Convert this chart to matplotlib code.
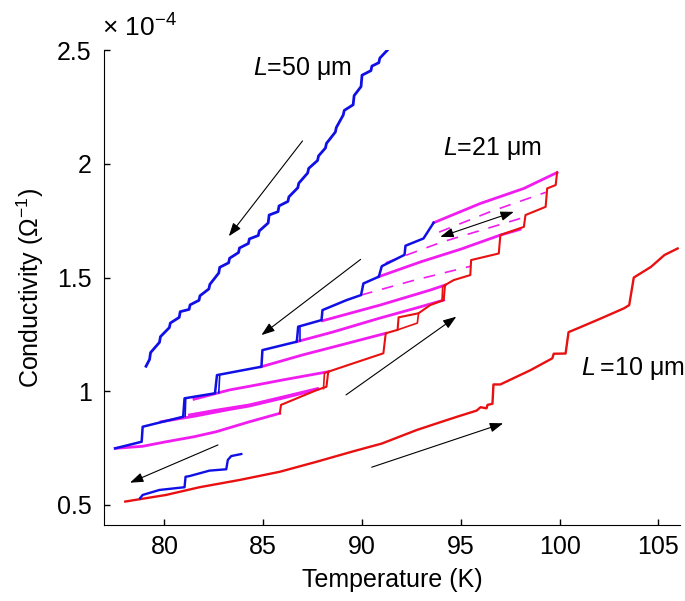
import matplotlib.pyplot as plt

plt.rcParams['font.family'] = ['Liberation Sans', 'DejaVu Sans']
plt.rcParams['mathtext.fontset'] = 'custom'
plt.rcParams['mathtext.rm'] = 'Liberation Sans'
plt.rcParams['mathtext.it'] = 'Liberation Sans:italic'

# temperatures in K, conductivities in units of 1e-4 Ohm^-1

# L = 50 um, cooling
l50_T = [91.28, 90.9, 90.85, 90.5, 90.45, 90.0, 89.95, 89.6, 89.55, 89.1, 89.05, 88.7,
         88.65, 88.2, 88.15, 87.8, 87.75, 87.3, 87.25, 86.8, 86.75, 86.3, 86.25, 85.8,
         85.75, 85.3, 85.25, 84.8, 84.75, 84.3, 84.25, 83.8, 83.75, 83.3, 83.25, 82.8,
         82.75, 82.3, 82.25, 81.8, 81.75, 81.3, 81.25, 80.8, 80.75, 80.3, 80.25, 79.8,
         79.75, 79.3, 79.25, 79.07]
l50_G = [2.50, 2.465, 2.445, 2.43, 2.41, 2.39, 2.34, 2.30, 2.26, 2.235, 2.215, 2.16,
         2.14, 2.09, 2.07, 2.035, 2.015, 1.98, 1.96, 1.915, 1.895, 1.855, 1.835, 1.815,
         1.79, 1.775, 1.74, 1.705, 1.685, 1.67, 1.65, 1.63, 1.61, 1.585, 1.565, 1.545,
         1.52, 1.47, 1.45, 1.42, 1.40, 1.38, 1.36, 1.35, 1.325, 1.30, 1.28, 1.24,
         1.215, 1.17, 1.14, 1.11]

# L = 10 um, heating and cooling
l10_heat_T = [78.02, 80.08, 81.78, 83.81, 85.84, 87.7, 89.56, 91.0, 92.78, 94.0, 94.81,
              95.8, 96.0, 96.3, 96.35, 96.6, 96.65, 97.0, 98.53, 99.63, 99.7, 100.3,
              100.45, 101.0, 102.08, 103.26, 103.52, 103.75, 104.62, 105.3, 105.97]
l10_heat_G = [0.515, 0.544, 0.578, 0.61, 0.646, 0.69, 0.736, 0.77, 0.83, 0.865, 0.888,
              0.915, 0.93, 0.925, 0.94, 0.945, 1.03, 1.03, 1.093, 1.145, 1.165, 1.166,
              1.26, 1.28, 1.32, 1.365, 1.379, 1.50, 1.547, 1.599, 1.628]
l10_cool_T = [83.89, 83.38, 83.21, 83.13, 82.28, 81.27, 81.07, 81.02, 79.75, 78.9, 78.77]
l10_cool_G = [0.724, 0.715, 0.698, 0.657, 0.651, 0.627, 0.624, 0.578, 0.566, 0.544, 0.53]

# L = 21 um, cooling (blue) and heating (red) with jumps
l21_cool_T = [93.62, 93.11, 92.2, 92.15, 91.0, 90.85, 90.07, 89.95, 89.22, 88.0, 87.95,
              86.77, 86.7, 84.96, 84.91, 82.66, 82.56, 81.02, 80.95, 78.9, 78.85, 77.51]
l21_cool_G = [1.741, 1.672, 1.640, 1.600, 1.550, 1.504, 1.474, 1.423, 1.401, 1.357, 1.313,
              1.284, 1.218, 1.181, 1.108, 1.071, 0.991, 0.969, 0.888, 0.844, 0.778, 0.749]
l21_cool_extra = [([86.85, 86.85], [1.284, 1.22]),
                  ([82.8, 82.75], [1.072, 0.993]),
                  ([81.08, 81.05], [0.969, 0.89])]
l21_heat_T = [85.84, 85.9, 87.7, 88.2, 88.29, 89.56, 91.08, 91.2, 91.8, 91.85, 92.86, 93.45,
              94.13, 94.2, 94.64, 95.48, 95.52, 96.92, 97.0, 98.19, 98.27, 99.29, 99.37,
              99.8, 99.87]
l21_heat_G = [0.903, 0.94, 1.005, 1.02, 1.086, 1.123, 1.167, 1.255, 1.27, 1.325, 1.343, 1.379,
              1.401, 1.467, 1.489, 1.511, 1.577, 1.606, 1.687, 1.723, 1.775, 1.811, 1.892,
              1.907, 1.962]
l21_heat_extra = [([91.8, 92.8, 92.86], [1.27, 1.30, 1.343]),
                  ([88.05, 88.1, 88.3], [1.012, 1.08, 1.086]),
                  ([94.05, 94.08, 94.2], [1.399, 1.46, 1.467])]

# L = 21 um, reversible segments (magenta)
l21_rev = [
    ([93.62, 95.99, 98.19, 99.87], [1.741, 1.826, 1.892, 1.962]),
    ([77.51, 78.9, 80.09, 81.5, 82.62, 84.31, 85.84], [0.749, 0.758, 0.778, 0.80, 0.822, 0.866, 0.903]),
    ([79.83, 81.5, 83.3, 84.3, 86.0, 87.75], [0.866, 0.89, 0.92, 0.935, 0.97, 1.008]),
    ([81.27, 82.5, 84.3, 86.0, 87.75], [0.896, 0.915, 0.94, 0.975, 1.012]),
    ([81.5, 83.3, 84.31, 86.0, 88.29], [0.965, 1.006, 1.022, 1.05, 1.086]),
    ([84.91, 87.0, 89.0, 91.2], [1.108, 1.16, 1.205, 1.255]),
    ([86.7, 88.5, 90.91, 92.9, 94.13], [1.218, 1.26, 1.322, 1.37, 1.401]),
    ([88.0, 90.91, 93.45, 94.2], [1.31, 1.379, 1.445, 1.467]),
    ([90.85, 93.0, 95.0, 97.0, 98.0], [1.504, 1.57, 1.625, 1.687, 1.712]),
]
l21_rev_dashed = [
    ([93.9, 96.5, 99.3], [1.70, 1.79, 1.875]),
    ([91.2, 94.0, 98.2], [1.565, 1.655, 1.765]),
    ([89.95, 92.5, 95.5], [1.423, 1.485, 1.55]),
]

# arrows (tail, head)
arrows = [((86.99, 2.101), (83.26, 1.682)),
          ((89.93, 1.580), (84.91, 1.247)),
          ((82.71, 0.764), (78.26, 0.598)),
          ((89.19, 0.984), (94.77, 1.328)),
          ((90.49, 0.666), (97.14, 0.859))]
double_arrow = ((93.96, 1.679), (97.68, 1.789))

labels = [('$L$=50 \u03bcm', 84.47, 2.421),
          ('$L$=21 \u03bcm', 94.1, 2.069),
          ('$L$\u2009=10 \u03bcm', 101.07, 1.102)]

blue = '#1010e6'
red = '#e81010'
magenta = '#f01cf0'

fig = plt.figure(figsize=(6.85, 6.01), dpi=100)
ax = fig.add_axes([0.152, 0.1265, 0.841, 0.790])

for T, G in l21_rev_dashed:
    ax.plot(T, G, color=magenta, lw=1.2, dashes=(7, 6))
for T, G in l21_rev:
    ax.plot(T, G, color=magenta, lw=2.0)
ax.plot(l21_heat_T, l21_heat_G, color=red, lw=1.5)
for T, G in l21_heat_extra:
    ax.plot(T, G, color=red, lw=1.2)
ax.plot(l21_cool_T, l21_cool_G, color=blue, lw=1.8)
for T, G in l21_cool_extra:
    ax.plot(T, G, color=blue, lw=1.2)

ax.plot(l50_T, l50_G, color=blue, lw=2.0)
ax.plot(l10_heat_T, l10_heat_G, color=red, lw=1.7)
ax.plot(l10_cool_T, l10_cool_G, color=blue, lw=1.7)

for tail, head in arrows:
    ax.annotate('', xy=head, xytext=tail,
                arrowprops=dict(arrowstyle='-|>,head_length=0.5,head_width=0.18',
                                mutation_scale=16, lw=0.8, color='k',
                                shrinkA=0, shrinkB=0))
ax.annotate('', xy=double_arrow[1], xytext=double_arrow[0],
            arrowprops=dict(arrowstyle='<|-|>,head_length=0.5,head_width=0.18',
                            mutation_scale=16, lw=0.8, color='k',
                            shrinkA=0, shrinkB=0))

for txt, x, y in labels:
    ax.text(x, y, txt, fontsize=18, va='center', ha='left')

ax.set_xlim(76.95, 106.1)
ax.set_ylim(0.412, 2.5)
ax.set_xticks([80, 85, 90, 95, 100, 105])
ax.set_yticks([0.5, 1, 1.5, 2, 2.5])
ax.set_yticklabels(['0.5', '1', '1.5', '2', '2.5'])
ax.tick_params(direction='in', length=4, width=1, labelsize=18)
ax.tick_params(axis='y', pad=9)
ax.tick_params(axis='x', pad=7)
ax.spines['top'].set_visible(False)
ax.spines['right'].set_visible(False)
ax.set_xlabel('Temperature (K)', fontsize=18, labelpad=7)
ax.set_ylabel('Conductivity (\u03a9$^{-1}$)', fontsize=18, labelpad=8)
fig.text(0.149, 0.953, '\u00d7 10$^{-4}$', fontsize=19, va='center', ha='left')

fig.savefig('out.png', dpi=100)
